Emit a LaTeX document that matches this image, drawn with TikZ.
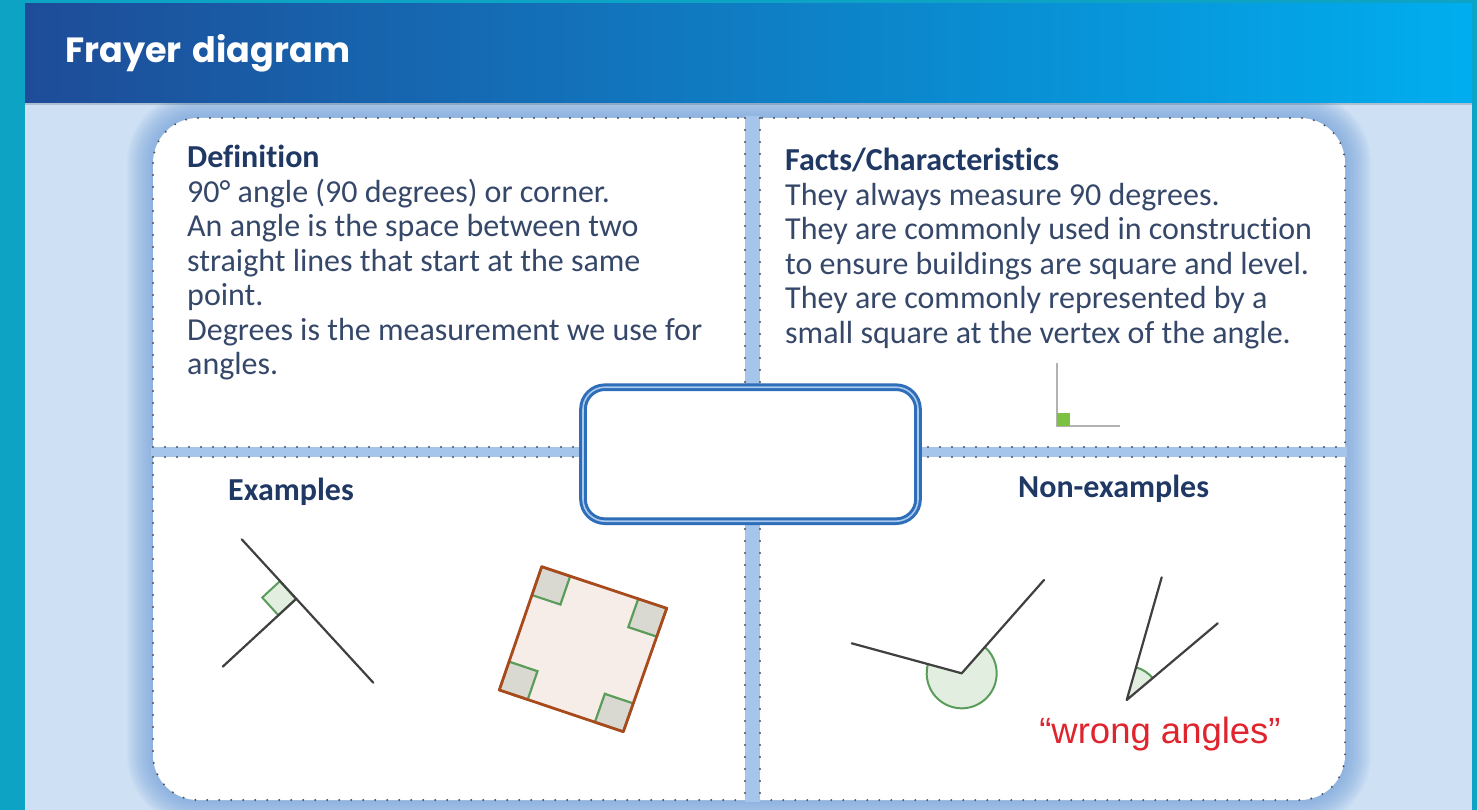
\documentclass[tikz,border=0pt]{standalone}
\usepackage{fontspec}
\setmainfont{Carlito}[Ligatures=NoCommon]
\newfontfamily\titlefont{Poppins}[WordSpace=1.5]
\newfontfamily\quotefont{Liberation Sans}
\usetikzlibrary{calc}
\definecolor{frameteal}{HTML}{0DA3C4}
\definecolor{paleblue}{HTML}{CEE0F3}
\definecolor{glowblue}{HTML}{6F9FDA}
\definecolor{gapblue}{HTML}{A6C5EA}
\definecolor{barleft}{HTML}{1E4C98}
\definecolor{barright}{HTML}{00AEEF}
\definecolor{headnavy}{HTML}{1F3864}
\definecolor{bodyslate}{HTML}{36486A}
\definecolor{boxblue}{HTML}{2E6DB8}
\definecolor{boxpale}{HTML}{A9C9EE}
\definecolor{dotgray}{HTML}{4D525C}
\definecolor{raygray}{HTML}{404040}
\definecolor{markgreen}{HTML}{5A9C5A}
\definecolor{markfill}{HTML}{E2EEE0}
\definecolor{cornerfill}{HTML}{D9D9D1}
\definecolor{squareedge}{HTML}{A84A1C}
\definecolor{squarefill}{HTML}{F6ECE8}
\definecolor{tinygreen}{HTML}{7DC142}
\definecolor{wrongred}{HTML}{E0242E}

\begin{document}
\begin{tikzpicture}[x=1pt, y=-1pt,
    panelrule/.style={draw=dotgray, line width=2.2pt, line cap=round, dash pattern=on 0pt off 12pt},
    paneltext/.style={anchor=north west, inner sep=0pt, align=left, text=bodyslate, font=\fontsize{32}{34.5}\selectfont},
    panelhead/.style={anchor=north west, inner sep=0pt, text=headnavy, font=\bfseries\fontsize{32}{34.5}\selectfont},
    ray/.style={draw=raygray, line width=2.2pt, line cap=round, line join=round},
    anglemark/.style={fill=markfill, draw=markgreen, line width=2pt},
    cornermark/.style={fill=cornerfill, draw=markgreen, line width=2.2pt}]
    \useasboundingbox (0,0) rectangle (1477,810);
    \fill[frameteal] (0,0) rectangle (1477,810);
    \fill[paleblue] (25,4) rectangle (1472,810);
    \foreach \g in {2,4,...,26}
      \fill[glowblue, opacity=0.07, rounded corners=45+\g] (153-\g,118-\g) rectangle (1345+\g,800+\g);
    \shade[left color=barleft, right color=barright] (25,4) rectangle (1472,103);
    \fill[black, opacity=0.15] (25,103) rectangle (1472,105);
    \node[anchor=base west, inner sep=0pt, text=white, font=\titlefont\bfseries\fontsize{35}{40}\selectfont] (title) at (65,63) {Frayer diagram};

    \filldraw[fill=white, panelrule, rounded corners=45] (153,118) rectangle (1345,800);
    \fill[gapblue] (745,116) rectangle (760,802);
    \fill[gapblue] (151,447) rectangle (1347,457);
    \foreach \x in {745,760}
      \draw[panelrule] (\x,118) -- (\x,447) (\x,457) -- (\x,800);
    \foreach \y in {447,457}
      \draw[panelrule] (153,\y) -- (745,\y) (760,\y) -- (1345,\y);

    \node[paneltext] (definition) at (187,145) {{\bfseries\color{headnavy}Definition}\\90° angle (90 degrees) or corner.\\An angle is the space between two\\straight lines that start at the same\\point.\\Degrees is the measurement we use for\\angles.};
    \node[paneltext] (facts) at (785,148) {{\bfseries\color{headnavy}Facts/Characteristics}\\They always measure 90 degrees.\\They are commonly used in construction\\to ensure buildings are square and level.\\They are commonly represented by a\\small square at the vertex of the angle.};
    \node[panelhead] (examples) at (228,478) {Examples};
    \node[panelhead] (nonexamples) at (1018,475) {Non-examples};

    \coordinate (fv) at (1057,426);
    \draw[draw=gray!60, line width=1.5pt] (1057,363) -- (fv) -- (1120,426);
    \fill[tinygreen] (fv) rectangle (1070,413);

    \coordinate (rv) at (296,599);
    \coordinate (ra) at (241.7,539.3);
    \coordinate (rb) at (373.3,682.7);
    \coordinate (rc) at (222.7,666.7);
    \filldraw[anglemark] (rv) -- ($(rv)!24pt!(ra)$) -- ($(rv)!24pt!(ra) + (rv)!24pt!(rc) - (rv)$) -- ($(rv)!24pt!(rc)$) -- cycle;
    \draw[ray] (ra) -- (rb);
    \draw[ray] (rc) -- (rv);

    \coordinate (sa) at (541.7,566.7);
    \coordinate (sb) at (666.7,608.3);
    \coordinate (sc) at (623.3,731.7);
    \coordinate (sd) at (499.3,690);
    \fill[squarefill] (sa) -- (sb) -- (sc) -- (sd) -- cycle;
    \foreach \cA/\cB/\cC in {sa/sb/sd, sb/sc/sa, sc/sd/sb, sd/sa/sc}
      \filldraw[cornermark] (\cA) -- ($(\cA)!30pt!(\cB)$) -- ($(\cA)!30pt!(\cB) + (\cA)!30pt!(\cC) - (\cA)$) -- ($(\cA)!30pt!(\cC)$) -- cycle;
    \draw[squareedge, line width=2.8pt, line join=round] (sa) -- (sb) -- (sc) -- (sd) -- cycle;

    \coordinate (wv) at (961.7,673.3);
    \coordinate (wl) at (851.7,643.3);
    \coordinate (wr) at (1044,580);
    \fill[markfill] (wv) -- ++(-164.7:35) arc[start angle=-164.7, end angle=-408.6, radius=35] -- cycle;
    \draw[markgreen, line width=2pt] ($(wv)+(-164.7:35)$) arc[start angle=-164.7, end angle=-408.6, radius=35];
    \draw[ray] (wl) -- (wv) -- (wr);

    \coordinate (qv) at (1126.7,700);
    \coordinate (qa) at (1161.7,577.3);
    \coordinate (qb) at (1217.7,623.3);
    \fill[markfill] (qv) -- ++(-74.1:34) arc[start angle=-74.1, end angle=-40.1, radius=34] -- cycle;
    \draw[markgreen, line width=2pt] ($(qv)+(-74.1:34)$) arc[start angle=-74.1, end angle=-40.1, radius=34];
    \draw[ray] (qa) -- (qv) -- (qb);
    \node[anchor=base, inner sep=0pt, text=wrongred, font=\quotefont\fontsize{36.5}{40}\selectfont] (wrong) at (1160,743) {“wrong angles”};

    \node[draw=boxblue, double=boxpale, double distance=1.6pt, line width=3pt, fill=white, rounded corners=22, minimum width=335pt, minimum height=134pt] (term) at (750.5,454.2) {};
\end{tikzpicture}
\end{document}
